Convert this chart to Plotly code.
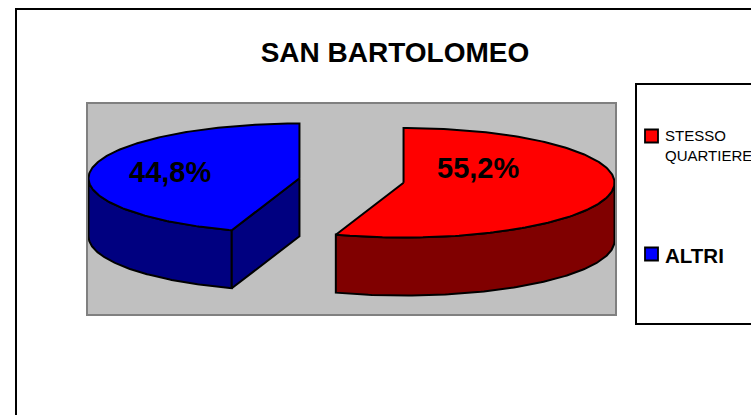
import numpy as np
import plotly.graph_objects as go

TITLE = "SAN BARTOLOMEO"
CATEGORIES = ["STESSO QUARTIERE", "ALTRI"]
SHARES = [55.2, 44.8]  # percent
TOP_COLORS = ["#FF0000", "#0000FF"]
SIDE_COLORS = ["#800000", "#000080"]

FONT = "Liberation Sans, Arial, sans-serif"
W, H = 751, 415
# plot area (gray box) in pixels
PL, PR, PT, PB = 88, 615, 104, 314

TILT = 0.26      # minor / major axis of the top face
DEPTH = 0.275    # thickness of the pie
EXPLODE = 0.25   # slice explosion


def px_paper(x, y):
    return (x - PL) / (PR - PL), (PB - y) / (PB - PT)


def rim(theta_deg, cx, cy, dz=0.0):
    t = np.radians(theta_deg)
    return cx + np.sin(t), cy + TILT * np.cos(t) - dz


fig = go.Figure()

total = sum(SHARES)
bounds = np.concatenate([[0], np.cumsum(SHARES) / total * 360])
slices = []
for i, share in enumerate(SHARES):
    t0, t1 = bounds[i], bounds[i + 1]
    mid = np.radians((t0 + t1) / 2)
    cx = EXPLODE * np.sin(mid)
    cy = EXPLODE * TILT * np.cos(mid)
    slices.append((i, t0, t1, cx, cy))


def poly(xs, ys, color):
    fig.add_trace(go.Scatter(
        x=xs, y=ys, mode="lines", fill="toself", fillcolor=color,
        line=dict(color="black", width=2), hoverinfo="skip", showlegend=False,
    ))


# draw back-most slice first
for i, t0, t1, cx, cy in sorted(slices, key=lambda s: s[4], reverse=True):
    # outer wall, only the front half (90..270 deg) is visible
    a, b = max(t0, 90), min(t1, 270)
    if a < b:
        th = np.linspace(a, b, 120)
        xt, yt = rim(th, cx, cy)
        xb, yb = rim(th[::-1], cx, cy, DEPTH)
        poly(np.concatenate([xt, xb, xt[:1]]), np.concatenate([yt, yb, yt[:1]]), SIDE_COLORS[i])
    # radial cut faces facing the viewer
    for edge, normal in ((t0, t0 - 90), (t1, t1 + 90)):
        if np.cos(np.radians(normal)) < -1e-6:
            ex, ey = rim(edge, cx, cy)
            poly([cx, ex, ex, cx, cx], [cy, ey, ey - DEPTH, cy - DEPTH, cy], SIDE_COLORS[i])
    # top face
    th = np.linspace(t0, t1, 200)
    xt, yt = rim(th, cx, cy)
    poly(np.concatenate([[cx], xt, [cx]]), np.concatenate([[cy], yt, [cy]]), TOP_COLORS[i])

# data labels (offsets from each slice's apex)
label_offsets = [(0.355, 0.071), (-0.616, 0.028)]
for (i, t0, t1, cx, cy), (dx, dy) in zip(slices, label_offsets):
    fig.add_annotation(
        x=cx + dx, y=cy + dy, xref="x", yref="y", showarrow=False,
        text=f"<b>{SHARES[i]:.1f}%</b>".replace(".", ","),
        font=dict(family=FONT, size=29, color="black"),
    )

shapes = []
# outer chart border
x0, y0 = px_paper(16, 9)
x1, y1 = px_paper(800, 460)
shapes.append(dict(type="rect", xref="paper", yref="paper", x0=x0, y0=y0, x1=x1, y1=y1,
                   line=dict(color="black", width=2), fillcolor="rgba(0,0,0,0)", layer="below"))
# legend box
x0, y0 = px_paper(636, 84)
x1, y1 = px_paper(800, 324)
shapes.append(dict(type="rect", xref="paper", yref="paper", x0=x0, y0=y0, x1=x1, y1=y1,
                   line=dict(color="black", width=2), fillcolor="white"))

legend_rows = [136, 254]
legend_fonts = [dict(size=15), dict(size=20.5)]
for i, (row, lf) in enumerate(zip(legend_rows, legend_fonts)):
    x0, y0 = px_paper(645, row - 6.5)
    x1, y1 = px_paper(658, row + 6.5)
    shapes.append(dict(type="rect", xref="paper", yref="paper", x0=x0, y0=y0, x1=x1, y1=y1,
                       line=dict(color="black", width=1.8), fillcolor=TOP_COLORS[i]))
    label = CATEGORIES[i].replace(" ", "<br>")
    if i == 1:
        label = f"<b>{label}</b>"
    n_lines = label.count("<br>") + 1
    tx, ty = px_paper(663, row + 1 + (n_lines - 1) * 17.5 / 2)
    fig.add_annotation(
        x=tx, y=ty, xref="paper", yref="paper", xanchor="left", yanchor="middle",
        align="left", showarrow=False, text=label,
        font=dict(family=FONT, color="black", **lf),
    )

fig.update_layout(
    width=W, height=H, autosize=False,
    margin=dict(l=PL, r=W - PR, t=PT, b=H - PB),
    paper_bgcolor="white",
    plot_bgcolor="#C0C0C0",
    shapes=shapes,
    title=dict(
        text=f"<b>{TITLE}</b>", x=395 / W, y=1 - 52 / H,
        xanchor="center", yanchor="middle",
        font=dict(family=FONT, size=28, color="black"),
    ),
    xaxis=dict(range=[-1.249, 1.249], showgrid=False, zeroline=False, showticklabels=False,
               ticks="", showline=True, mirror=True, linecolor="#808080", linewidth=2, fixedrange=True),
    yaxis=dict(range=[-0.633, 0.363], showgrid=False, zeroline=False, showticklabels=False,
               ticks="", showline=True, mirror=True, linecolor="#808080", linewidth=2, fixedrange=True),
    showlegend=False,
)

# drop the default page margin so the figure sits at the window's top-left corner
fig.write_html(
    "out.html",
    config={"displayModeBar": False},
    post_script="document.body.style.margin='0';",
)
